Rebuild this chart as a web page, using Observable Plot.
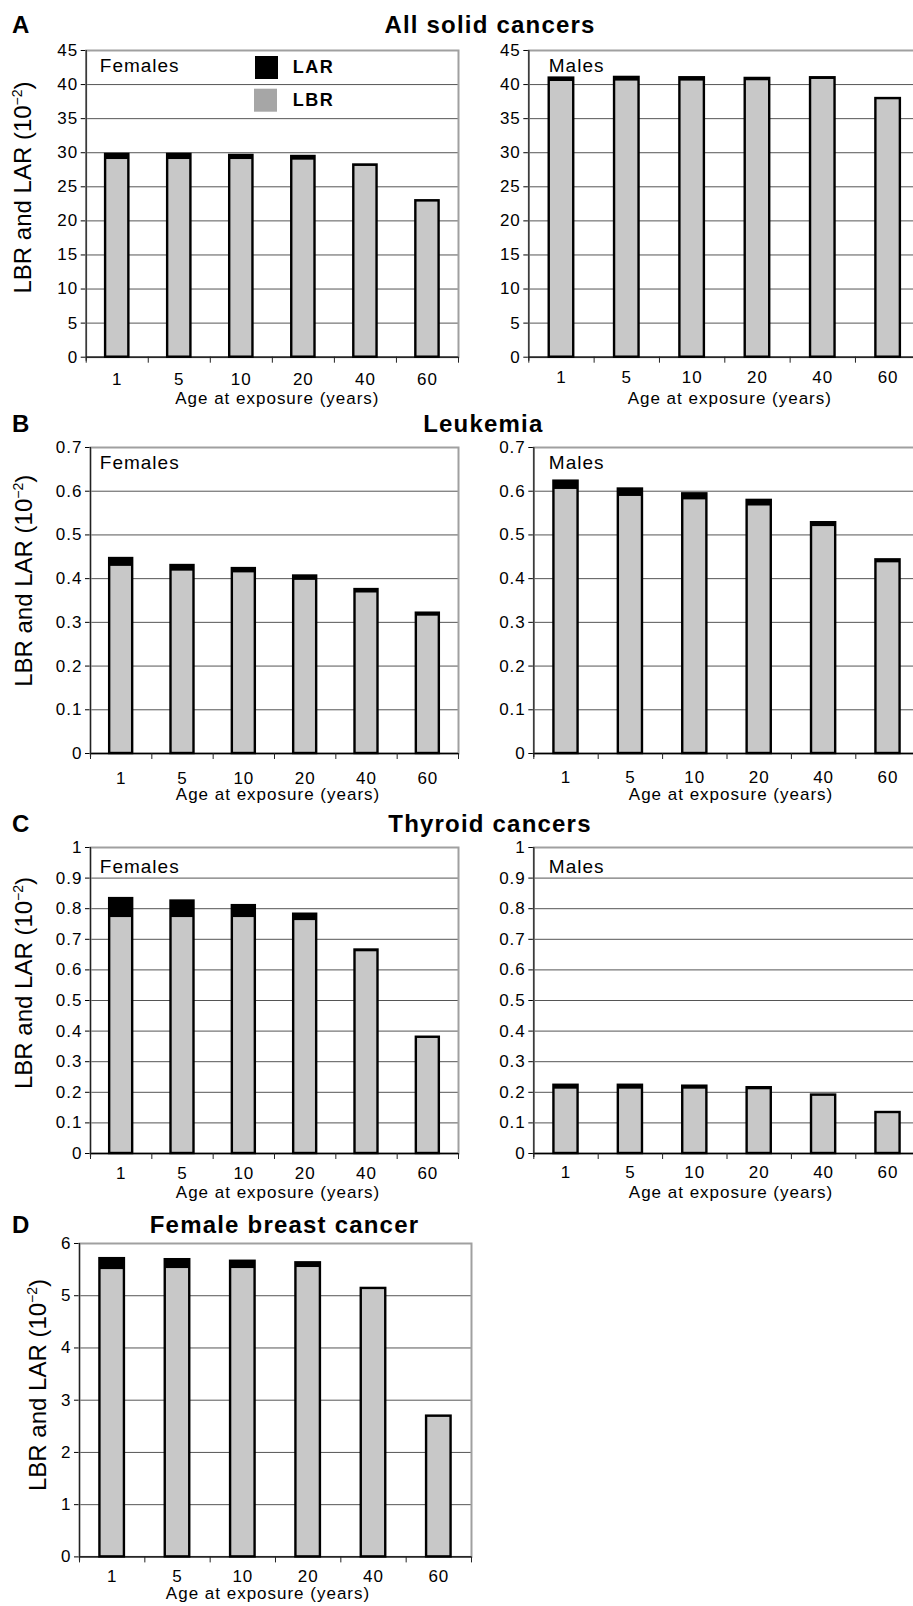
<!DOCTYPE html>
<html>
<head>
<meta charset="utf-8">
<script src="https://cdn.jsdelivr.net/npm/d3@7"></script>
<script src="https://cdn.jsdelivr.net/npm/@observablehq/plot@0.6"></script>
<style>
  html, body { margin: 0; padding: 0; background: #fff; overflow: hidden; }
  #fig { position: relative; width: 913px; height: 1606px; overflow: hidden; background: #fff; }
  #fig > svg.panel { position: absolute; max-width: none; }
  #overlay { position: absolute; left: 0; top: 0; pointer-events: none; }
</style>
</head>
<body>
<div id="fig"></div>
<script>
// ---------- data ----------
const ages = ["1", "5", "10", "20", "40", "60"];

// A: All solid cancers
const solidFemaleLBR = [29.0, 29.0, 29.0, 28.9, 28.0, 22.8];
const solidFemaleLAR = [0.75, 0.75, 0.6, 0.55, 0.2, 0.15];
const solidMaleLBR = [40.45, 40.5, 40.5, 40.55, 40.75, 37.8];
const solidMaleLAR = [0.5, 0.55, 0.5, 0.35, 0.25, 0.15];
const solidTicks = [0, 5, 10, 15, 20, 25, 30, 35, 40, 45];

// B: Leukemia
const leukFemaleLBR = [0.428, 0.417, 0.413, 0.396, 0.367, 0.314];
const leukFemaleLAR = [0.018, 0.013, 0.010, 0.010, 0.008, 0.007];
const leukMaleLBR = [0.604, 0.588, 0.580, 0.566, 0.519, 0.436];
const leukMaleLAR = [0.019, 0.017, 0.014, 0.013, 0.009, 0.007];
const leukTicks = [0, 0.1, 0.2, 0.3, 0.4, 0.5, 0.6, 0.7];

// C: Thyroid cancers
const thyFemaleLBR = [0.771, 0.771, 0.771, 0.761, 0.659, 0.377];
const thyFemaleLAR = [0.062, 0.054, 0.039, 0.021, 0.006, 0.003];
const thyMaleLBR = [0.210, 0.210, 0.210, 0.208, 0.188, 0.131];
const thyMaleLAR = [0.013, 0.013, 0.010, 0.007, 0.003, 0.003];
const thyTicks = [0, 0.1, 0.2, 0.3, 0.4, 0.5, 0.6, 0.7, 0.8, 0.9, 1];

// D: Female breast cancer
const breastLBR = [5.50, 5.52, 5.52, 5.54, 5.12, 2.68];
const breastLAR = [0.21, 0.17, 0.14, 0.09, 0.02, 0.015];
const breastTicks = [0, 1, 2, 3, 4, 5, 6];

const xTitle = "Age at exposure (years)";
const yTitle = "LBR and LAR (10";
const yTitleSup = "\u22122";
const legendLabels = ["LAR", "LBR"];
const legendColors = ["#000000", "#a6a6a6"];

// ---------- layout ----------
const FONT = "'Liberation Sans', Arial, Helvetica, sans-serif";
const fig = document.getElementById("fig");

const panels = [
  {lbr: solidFemaleLBR, lar: solidFemaleLAR, ticks: solidTicks, sex: "Females",
   left: 85.7, right: 458, top: 50, bottom: 356.7, svgLeft: 0, svgRight: 460,
   xPad: 15.5, sexDx: 13.6, sexDy: 15.2, titleDx: 5, titleDy: 41.5},
  {lbr: solidMaleLBR, lar: solidMaleLAR, ticks: solidTicks, sex: "Males",
   left: 528.3, right: 920.3, top: 50, bottom: 356.7, svgLeft: 462, svgRight: 922,
   xPad: 14, sexDx: 20, sexDy: 15.2, titleDx: 5, titleDy: 41.5},
  {lbr: leukFemaleLBR, lar: leukFemaleLAR, ticks: leukTicks, sex: "Females",
   left: 90, right: 458, top: 446.7, bottom: 752.7, svgLeft: 0, svgRight: 460,
   xPad: 18, sexDx: 9.3, sexDy: 15.8, titleDx: 3.5, titleDy: 41.5},
  {lbr: leukMaleLBR, lar: leukMaleLAR, ticks: leukTicks, sex: "Males",
   left: 533.3, right: 919.7, top: 446.7, bottom: 752.7, svgLeft: 462, svgRight: 922,
   xPad: 17.5, sexDx: 15, sexDy: 15.8, titleDx: 4, titleDy: 41.5},
  {lbr: thyFemaleLBR, lar: thyFemaleLAR, ticks: thyTicks, sex: "Females",
   left: 90, right: 458, top: 846.7, bottom: 1152.7, svgLeft: 0, svgRight: 460,
   xPad: 13.5, sexDx: 9.3, sexDy: 19.2, titleDx: 3.5, titleDy: 39.5},
  {lbr: thyMaleLBR, lar: thyMaleLAR, ticks: thyTicks, sex: "Males",
   left: 533.3, right: 919.7, top: 846.7, bottom: 1152.7, svgLeft: 462, svgRight: 922,
   xPad: 12.5, sexDx: 15, sexDy: 19.2, titleDx: 4, titleDy: 39.5},
  {lbr: breastLBR, lar: breastLAR, ticks: breastTicks, sex: null,
   left: 79, right: 471, top: 1243.3, bottom: 1556.7, svgLeft: 0, svgRight: 473,
   xPad: 13.5, sexDx: 0, sexDy: 0, titleDx: -7.5, titleDy: 36.8, marginBottom: 49}
];

function makePanel(p) {
  const rows = ages.map((age, i) => ({age, lbr: p.lbr[i], lar: p.lar[i], total: p.lbr[i] + p.lar[i]}));
  const yMax = p.ticks[p.ticks.length - 1];
  const marginTop = 12;
  const marginBottom = p.marginBottom || 50;
  const width = p.svgRight - p.svgLeft;
  const height = (p.bottom - p.top) + marginTop + marginBottom;
  const step = (p.right - p.left) / ages.length;
  const marks = [
    Plot.ruleY(p.ticks.filter(t => t > 0 && t < yMax), {stroke: "#555", strokeWidth: 1}),
    Plot.frame({stroke: "#a0a0a0", strokeWidth: 2}),
    Plot.barY(rows, {x: "age", y1: 0, y2: "lbr", fill: "#c8c8c8"}),
    Plot.barY(rows, {x: "age", y1: "lbr", y2: "total", fill: "#000"}),
    Plot.barY(rows, {x: "age", y1: 0, y2: "total", fill: "none", stroke: "#000", strokeWidth: 2.4}),
    Plot.ruleY([0], {stroke: "#000", strokeWidth: 1.3}),
    Plot.ruleX([ages[0]], {x: d => d, dx: -step / 2, stroke: "#222", strokeWidth: 1.2, insetBottom: -4}),
    Plot.ruleX(ages, {x: d => d, y1: 0, y2: 0, dx: -step / 2, insetBottom: -6, stroke: "#222"}),
    Plot.ruleX([ages[ages.length - 1]], {x: d => d, y1: 0, y2: 0, dx: step / 2, insetBottom: -6, stroke: "#222"}),
    Plot.text([xTitle], {frameAnchor: "bottom", dx: p.titleDx, dy: p.titleDy, fontSize: 17, lineAnchor: "middle", text: d => d})
  ];
  if (p.sex) {
    marks.push(Plot.text([p.sex], {frameAnchor: "top-left", dx: p.sexDx, dy: p.sexDy, textAnchor: "start",
      lineAnchor: "middle", fontSize: 19, text: d => d}));
  }
  const chart = Plot.plot({
    width, height,
    marginLeft: p.left - p.svgLeft,
    marginRight: p.svgRight - p.right,
    marginTop, marginBottom,
    style: {background: "transparent", fontFamily: FONT, fontSize: "17px", letterSpacing: "1px", color: "#000", overflow: "visible"},
    x: {type: "band", domain: ages, paddingInner: 0.625, paddingOuter: 0.3125, round: false,
        label: null, tickSize: 0, tickPadding: p.xPad},
    y: {domain: [0, yMax], ticks: p.ticks, tickFormat: d => String(d), tickSize: 5, tickPadding: 3, label: null},
    marks
  });
  chart.classList.add("panel");
  chart.style.left = p.svgLeft + "px";
  chart.style.top = (p.top - marginTop) + "px";
  fig.appendChild(chart);
}
panels.forEach(makePanel);

// ---------- overlay: panel letters, titles, y labels, legend ----------
const NS = "http://www.w3.org/2000/svg";
const ov = document.createElementNS(NS, "svg");
ov.setAttribute("id", "overlay");
ov.setAttribute("width", 913);
ov.setAttribute("height", 1606);
ov.setAttribute("font-family", FONT);
fig.appendChild(ov);

function addText(str, x, y, opts = {}) {
  const t = document.createElementNS(NS, "text");
  t.setAttribute("x", x);
  t.setAttribute("y", y);
  t.setAttribute("font-size", opts.size || 24);
  t.setAttribute("font-weight", opts.bold ? "bold" : "normal");
  t.setAttribute("text-anchor", opts.anchor || "start");
  if (opts.ls) t.setAttribute("letter-spacing", opts.ls);
  t.setAttribute("fill", "#000");
  t.textContent = str;
  ov.appendChild(t);
  return t;
}

const sections = [
  {letter: "A", title: "All solid cancers", cx: 490, base: 33.3},
  {letter: "B", title: "Leukemia", cx: 483.3, base: 431.7},
  {letter: "C", title: "Thyroid cancers", cx: 490, base: 831.7},
  {letter: "D", title: "Female breast cancer", cx: 284.5, base: 1233.3}
];
sections.forEach(s => {
  addText(s.letter, 12, s.base, {size: 24, bold: true});
  addText(s.title, s.cx, s.base, {size: 24, bold: true, anchor: "middle", ls: 1.2});
});

const yLabelPos = [[22.8, 187.5], [23.3, 580.8], [23.3, 983], [37.5, 1385]];
yLabelPos.forEach(([cx, cy]) => {
  const t = document.createElementNS(NS, "text");
  t.setAttribute("transform", `translate(${cx},${cy}) rotate(-90)`);
  t.setAttribute("text-anchor", "middle");
  t.setAttribute("dy", "0.36em");
  t.setAttribute("font-size", 24);
  t.setAttribute("fill", "#000");
  t.appendChild(document.createTextNode(yTitle));
  const sup = document.createElementNS(NS, "tspan");
  sup.setAttribute("font-size", 14);
  sup.setAttribute("dy", "-9");
  sup.textContent = yTitleSup;
  t.appendChild(sup);
  const close = document.createElementNS(NS, "tspan");
  close.setAttribute("dy", "9");
  close.textContent = ")";
  t.appendChild(close);
  ov.appendChild(t);
});

// legend (panel A, females)
const legendRows = [{y: 56, x: 255, ty: 72.7}, {y: 88.7, x: 254, ty: 106}];
legendLabels.forEach((lab, i) => {
  const r = document.createElementNS(NS, "rect");
  r.setAttribute("x", legendRows[i].x);
  r.setAttribute("y", legendRows[i].y);
  r.setAttribute("width", 23);
  r.setAttribute("height", 23);
  r.setAttribute("fill", legendColors[i]);
  ov.appendChild(r);
  addText(lab, 292.7, legendRows[i].ty, {size: 18, bold: true, ls: 1.5});
});
</script>
</body>
</html>
